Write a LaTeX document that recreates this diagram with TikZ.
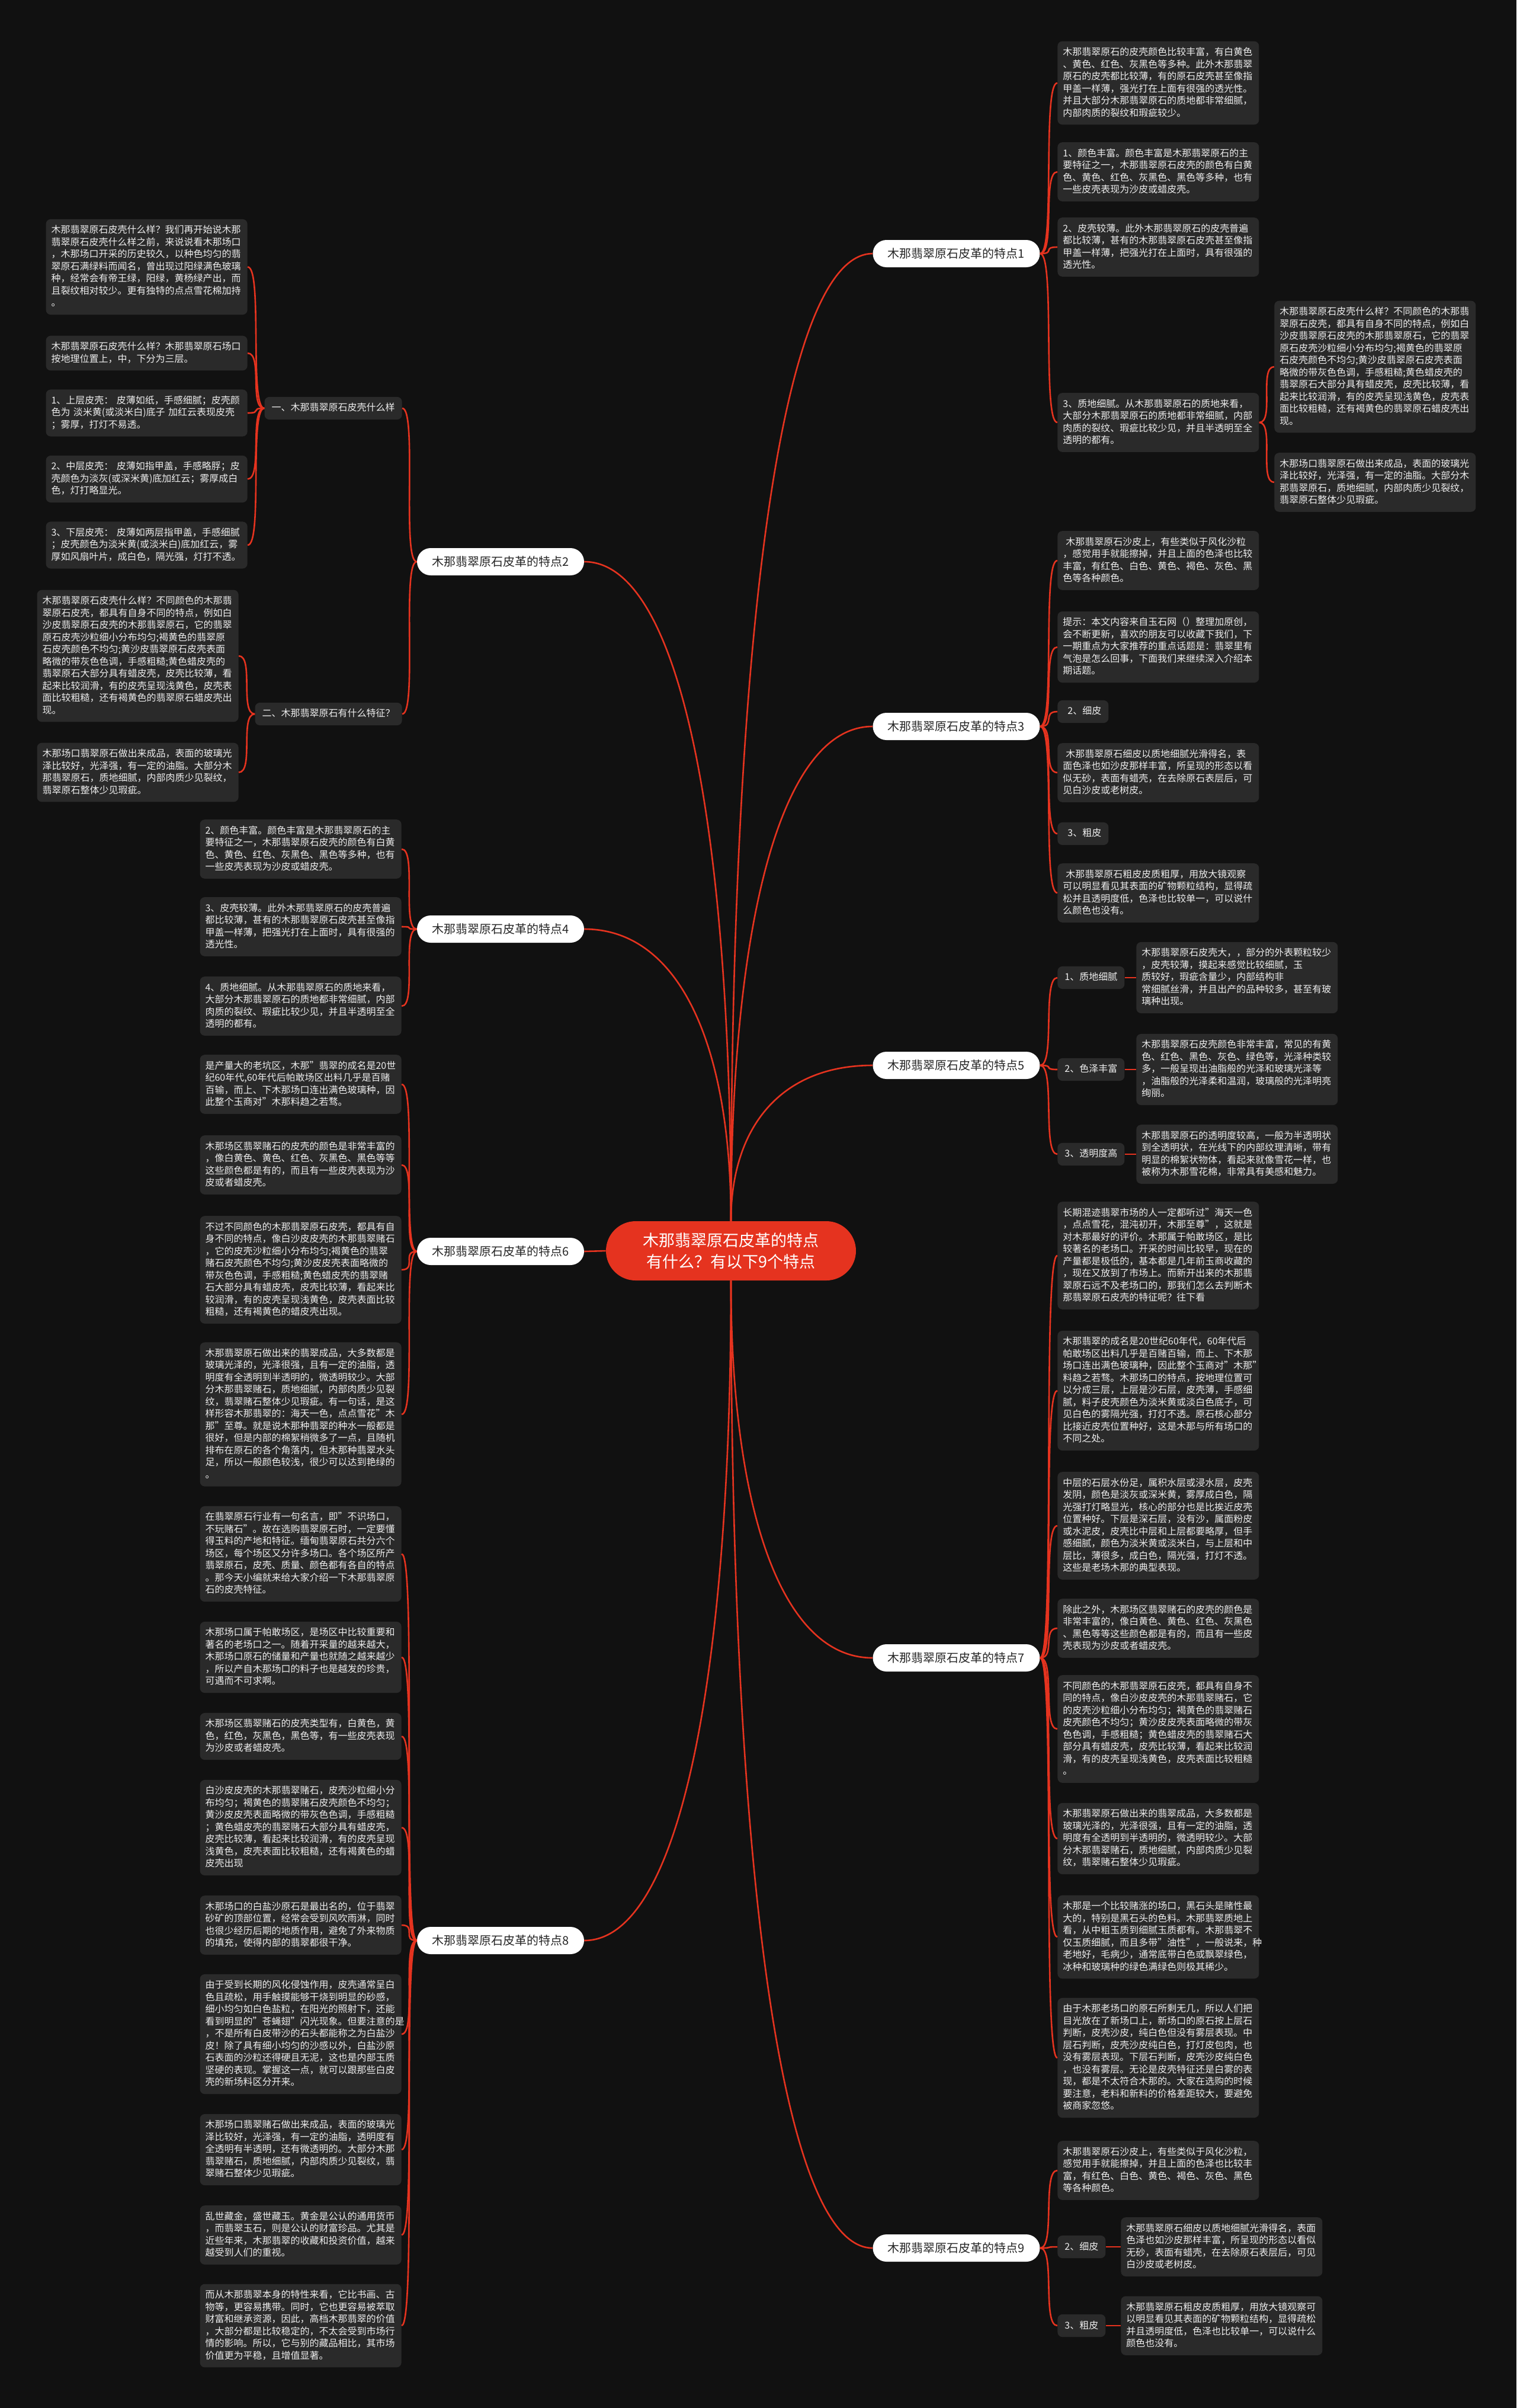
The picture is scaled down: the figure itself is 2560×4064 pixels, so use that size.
\documentclass[tikz,border=0pt]{standalone}
\usepackage{fontspec}
\setmainfont{Noto Sans CJK SC}
\usetikzlibrary{calc}
\definecolor{bgc}{HTML}{111111}
\definecolor{boxc}{HTML}{2A2A2A}
\definecolor{txtc}{HTML}{EEEEEE}
\definecolor{redc}{HTML}{E5331F}
\definecolor{pilltxt}{HTML}{262626}
\newcommand\bstrut{\rule[-2.65pt]{0pt}{10.25pt}}
\newcommand\bodyfont{\fontsize{8pt}{10.25pt}\selectfont}
\newcommand\mmcurve[2]{\draw[conn] let \p1=(#1), \p2=(#2) in (\p1) .. controls (\x1,{\y1+0.6*(\y2-\y1)}) and ({\x1+0.35*(\x2-\x1)},\y2) .. (\p2);}
\begin{document}
\begin{tikzpicture}[x=0.5pt,y=-0.5pt,
  conn/.style={draw=redc, line width=1.3pt},
  box/.style={fill=boxc, rounded corners=4pt, text=txtc, text width=161pt, align=left, inner xsep=4.5pt, inner ysep=4.4pt, font=\bodyfont, execute at begin node=\bstrut, execute at end node=\bstrut},
  lab/.style={fill=boxc, rounded corners=4pt, text=txtc, font=\bodyfont, inner xsep=6pt, inner ysep=4.4pt, execute at begin node=\bstrut},
  pill/.style={fill=white, text=pilltxt, rounded corners=11.5pt, minimum width=141pt, minimum height=23pt, font=\fontsize{10pt}{12pt}\selectfont, inner sep=0pt},
  root/.style={fill=redc, text=white, rounded corners=25pt, minimum width=211pt, minimum height=50pt, align=center, font=\fontsize{13.5pt}{18pt}\selectfont, inner sep=0pt}
]
\fill[bgc] (0,0) rectangle (2560,4064);
\useasboundingbox (0,0) rectangle (2560,4064);

% ---------- root and branches ----------
\node[root] (C) at (1234,2111) {木那翡翠原石皮革的特点\\有什么？有以下9个特点};
\node[pill] (P1) at (1614.5,428) {木那翡翠原石皮革的特点1};
\node[pill] (P2) at (845,948) {木那翡翠原石皮革的特点2};
\node[pill] (P3) at (1614.5,1226) {木那翡翠原石皮革的特点3};
\node[pill] (P4) at (845,1568) {木那翡翠原石皮革的特点4};
\node[pill] (P5) at (1614.5,1798) {木那翡翠原石皮革的特点5};
\node[pill] (P6) at (845,2112) {木那翡翠原石皮革的特点6};
\node[pill] (P7) at (1614.5,2798) {木那翡翠原石皮革的特点7};
\node[pill] (P8) at (845,3275) {木那翡翠原石皮革的特点8};
\node[pill] (P9) at (1614.5,3794) {木那翡翠原石皮革的特点9};

% ---------- feature 1 ----------
\node[box,anchor=west] (A1) at (1785,140) {木那翡翠原石的皮壳颜色比较丰富，有白黄色\\、黄色、红色、灰黑色等多种。此外木那翡翠\\原石的皮壳都比较薄，有的原石皮壳甚至像指\\甲盖一样薄，强光打在上面有很强的透光性。\\并且大部分木那翡翠原石的质地都非常细腻，\\内部肉质的裂纹和瑕疵较少。};
\node[box,anchor=west] (A2) at (1785,290) {1、颜色丰富。颜色丰富是木那翡翠原石的主\\要特征之一，木那翡翠原石皮壳的颜色有白黄\\色、黄色、红色、灰黑色、黑色等多种，也有\\一些皮壳表现为沙皮或蜡皮壳。};
\node[box,anchor=west] (A3) at (1785,417) {2、皮壳较薄。此外木那翡翠原石的皮壳普遍\\都比较薄，甚有的木那翡翠原石皮壳甚至像指\\甲盖一样薄，把强光打在上面时，具有很强的\\透光性。};
\node[box,anchor=west] (A4) at (1785,713) {3、质地细腻。从木那翡翠原石的质地来看，\\大部分木那翡翠原石的质地都非常细腻，内部\\肉质的裂纹、瑕疵比较少见，并且半透明至全\\透明的都有。};
\node[box,anchor=west] (A5) at (2151,619) {木那翡翠原石皮壳什么样？不同颜色的木那翡\\翠原石皮壳，都具有自身不同的特点，例如白\\沙皮翡翠原石皮壳的木那翡翠原石，它的翡翠\\原石皮壳沙粒细小分布均匀;褐黄色的翡翠原\\石皮壳颜色不均匀;黄沙皮翡翠原石皮壳表面\\略微的带灰色色调，手感粗糙;黄色蜡皮壳的\\翡翠原石大部分具有蜡皮壳，皮壳比较薄，看\\起来比较润滑，有的皮壳呈现浅黄色，皮壳表\\面比较粗糙，还有褐黄色的翡翠原石蜡皮壳出\\现。};
\node[box,anchor=west] (A6) at (2151,814) {木那场口翡翠原石做出来成品，表面的玻璃光\\泽比较好，光泽强，有一定的油脂。大部分木\\那翡翠原石，质地细腻，内部肉质少见裂纹，\\翡翠原石整体少见瑕疵。};

% ---------- feature 2 ----------
\node[lab,anchor=east] (B1) at (679,689) {一、木那翡翠原石皮壳什么样};
\node[lab,anchor=east] (B2) at (679,1205) {二、木那翡翠原石有什么特征？};
\node[box,anchor=east] (Ba1) at (418,450.5) {木那翡翠原石皮壳什么样？我们再开始说木那\\翡翠原石皮壳什么样之前，来说说看木那场口\\，木那场口开采的历史较久，以种色均匀的翡\\翠原石满绿料而闻名，曾出现过阳绿满色玻璃\\种，经常会有帝王绿，阳绿，黄杨绿产出，而\\且裂纹相对较少。更有独特的点点雪花棉加持\\。};
\node[box,anchor=east] (Ba2) at (418,596) {木那翡翠原石皮壳什么样？木那翡翠原石场口\\按地理位置上，中，下分为三层。};
\node[box,anchor=east] (Ba3) at (418,697) {1、上层皮壳： 皮薄如纸，手感细腻；皮壳颜\\色为 淡米黄(或淡米白)底子 加红云表现皮壳\\；雾厚，打灯不易透。};
\node[box,anchor=east] (Ba4) at (418,808.5) {2、中层皮壳： 皮薄如指甲盖，手感略脬；皮\\壳颜色为淡灰(或深米黄)底加红云；雾厚成白\\色，灯打略显光。};
\node[box,anchor=east] (Ba5) at (418,920) {3、下层皮壳： 皮薄如两层指甲盖，手感细腻\\；皮壳颜色为淡米黄(或淡米白)底加红云，雾\\厚如风扇叶片，成白色，隔光强，灯打不透。};
\node[box,anchor=east] (Bb1) at (403,1107) {木那翡翠原石皮壳什么样？不同颜色的木那翡\\翠原石皮壳，都具有自身不同的特点，例如白\\沙皮翡翠原石皮壳的木那翡翠原石，它的翡翠\\原石皮壳沙粒细小分布均匀;褐黄色的翡翠原\\石皮壳颜色不均匀;黄沙皮翡翠原石皮壳表面\\略微的带灰色色调，手感粗糙;黄色蜡皮壳的\\翡翠原石大部分具有蜡皮壳，皮壳比较薄，看\\起来比较润滑，有的皮壳呈现浅黄色，皮壳表\\面比较粗糙，还有褐黄色的翡翠原石蜡皮壳出\\现。};
\node[box,anchor=east] (Bb2) at (403,1303.5) {木那场口翡翠原石做出来成品，表面的玻璃光\\泽比较好，光泽强，有一定的油脂。大部分木\\那翡翠原石，质地细腻，内部肉质少见裂纹，\\翡翠原石整体少见瑕疵。};

% ---------- feature 3 ----------
\node[box,anchor=west] (C1) at (1785,946) {\hspace*{2.5pt}木那翡翠原石沙皮上，有些类似于风化沙粒\\，感觉用手就能擦掉，并且上面的色泽也比较\\丰富，有红色、白色、黄色、褐色、灰色、黑\\色等各种颜色。};
\node[box,anchor=west] (C2) at (1785,1092) {提示：本文内容来自玉石网（）整理加原创，\\会不断更新，喜欢的朋友可以收藏下我们，下\\一期重点为大家推荐的重点话题是：翡翠里有\\气泡是怎么回事，下面我们来继续深入介绍本\\期话题。};
\node[lab,anchor=west] (C3) at (1785,1201) {\hspace*{2.5pt}2、细皮};
\node[box,anchor=west] (C4) at (1785,1304) {\hspace*{2.5pt}木那翡翠原石细皮以质地细腻光滑得名，表\\面色泽也如沙皮那样丰富，所呈现的形态以看\\似无砂，表面有蜡壳，在去除原石表层后，可\\见白沙皮或老树皮。};
\node[lab,anchor=west] (C5) at (1785,1407) {\hspace*{2.5pt}3、粗皮};
\node[box,anchor=west] (C6) at (1785,1507) {\hspace*{2.5pt}木那翡翠原石粗皮皮质粗厚，用放大镜观察\\可以明显看见其表面的矿物颗粒结构，显得疏\\松并且透明度低，色泽也比较单一，可以说什\\么颜色也没有。};

% ---------- feature 4 ----------
\node[box,anchor=east] (D1) at (678,1433) {2、颜色丰富。颜色丰富是木那翡翠原石的主\\要特征之一，木那翡翠原石皮壳的颜色有白黄\\色、黄色、红色、灰黑色、黑色等多种，也有\\一些皮壳表现为沙皮或蜡皮壳。};
\node[box,anchor=east] (D2) at (678,1564) {3、皮壳较薄。此外木那翡翠原石的皮壳普遍\\都比较薄，甚有的木那翡翠原石皮壳甚至像指\\甲盖一样薄，把强光打在上面时，具有很强的\\透光性。};
\node[box,anchor=east] (D3) at (678,1698) {4、质地细腻。从木那翡翠原石的质地来看，\\大部分木那翡翠原石的质地都非常细腻，内部\\肉质的裂纹、瑕疵比较少见，并且半透明至全\\透明的都有。};

% ---------- feature 5 ----------
\node[lab,anchor=west] (E1) at (1785,1650) {1、质地细腻};
\node[lab,anchor=west] (E2) at (1785,1805) {2、色泽丰富};
\node[lab,anchor=west] (E3) at (1785,1948) {3、透明度高};
\node[box,anchor=west] (Et1) at (1918,1650) {木那翡翠原石皮壳大，，部分的外表颗粒较少\\，皮壳较薄，摸起来感觉比较细腻，玉\\质较好，瑕疵含量少，内部结构非\\常细腻丝滑，并且出产的品种较多，甚至有玻\\璃种出现。};
\node[box,anchor=west] (Et2) at (1918,1805) {木那翡翠原石皮壳颜色非常丰富，常见的有黄\\色、红色、黑色、灰色、绿色等，光泽种类较\\多，一般呈现出油脂般的光泽和玻璃光泽等\\，油脂般的光泽柔和温润，玻璃般的光泽明亮\\绚丽。};
\node[box,anchor=west] (Et3) at (1918,1948) {木那翡翠原石的透明度较高，一般为半透明状\\到全透明状，在光线下的内部纹理清晰，带有\\明显的棉絮状物体，看起来就像雪花一样，也\\被称为木那雪花棉，非常具有美感和魅力。};

% ---------- feature 6 ----------
\node[box,anchor=east] (F1) at (678,1830) {是产量大的老坑区，木那"翡翠的成名是20世\\纪60年代,60年代后帕敢场区出料几乎是百赌\\百输，而上、下木那场口连出满色玻璃种，因\\此整个玉商对"木那料趋之若骛。};
\node[box,anchor=east] (F2) at (678,1966) {木那场区翡翠赌石的皮壳的颜色是非常丰富的\\，像白黄色、黄色、红色、灰黑色、黑色等等\\这些颜色都是有的，而且有一些皮壳表现为沙\\皮或者蜡皮壳。};
\node[box,anchor=east] (F3) at (678,2143) {不过不同颜色的木那翡翠原石皮壳，都具有自\\身不同的特点，像白沙皮皮壳的木那翡翠赌石\\，它的皮壳沙粒细小分布均匀;褐黄色的翡翠\\赌石皮壳颜色不均匀;黄沙皮皮壳表面略微的\\带灰色色调，手感粗糙;黄色蜡皮壳的翡翠赌\\石大部分具有蜡皮壳，皮壳比较薄，看起来比\\较润滑，有的皮壳呈现浅黄色，皮壳表面比较\\粗糙，还有褐黄色的蜡皮壳出现。};
\node[box,anchor=east] (F4) at (678,2387) {木那翡翠原石做出来的翡翠成品，大多数都是\\玻璃光泽的，光泽很强，且有一定的油脂，透\\明度有全透明到半透明的，微透明较少。大部\\分木那翡翠赌石，质地细腻，内部肉质少见裂\\纹，翡翠赌石整体少见瑕疵。有一句话，是这\\样形容木那翡翠的：海天一色，点点雪花"木\\那"至尊。就是说木那种翡翠的种水一般都是\\很好，但是内部的棉絮稍微多了一点，且随机\\排布在原石的各个角落内，但木那种翡翠水头\\足，所以一般颜色较浅，很少可以达到艳绿的\\。};

% ---------- feature 7 ----------
\node[box,anchor=west] (G1) at (1785,2119) {长期混迹翡翠市场的人一定都听过"海天一色\\，点点雪花，混沌初开，木那至尊"，这就是\\对木那最好的评价。木那属于帕敢场区，是比\\较著名的老场口。开采的时间比较早，现在的\\产量都是极低的，基本都是几年前玉商收藏的\\，现在又放到了市场上。而新开出来的木那翡\\翠原石远不及老场口的，那我们怎么去判断木\\那翡翠原石皮壳的特征呢？往下看};
\node[box,anchor=west] (G2) at (1785,2347) {木那翡翠的成名是20世纪60年代，60年代后\\帕敢场区出料几乎是百赌百输，而上、下木那\\场口连出满色玻璃种，因此整个玉商对"木那"\\料趋之若骛。木那场口的特点，按地理位置可\\以分成三层，上层是沙石层，皮壳薄，手感细\\腻，料子皮壳颜色为淡米黄或淡白色底子，可\\见白色的雾隔光强，打灯不透。原石核心部分\\比接近皮壳位置种好，这是木那与所有场口的\\不同之处。};
\node[box,anchor=west] (G3) at (1785,2575) {中层的石层水份足，属积水层或浸水层，皮壳\\发阴，颜色是淡灰或深米黄，雾厚成白色，隔\\光强打灯略显光，核心的部分也是比挨近皮壳\\位置种好。下层是深石层，没有沙，属面粉皮\\或水泥皮，皮壳比中层和上层都要略厚，但手\\感细腻，颜色为淡米黄或淡米白，与上层和中\\层比，薄很多，成白色，隔光强，打灯不透。\\这些是老场木那的典型表现。};
\node[box,anchor=west] (G4) at (1785,2748) {除此之外，木那场区翡翠赌石的皮壳的颜色是\\非常丰富的，像白黄色、黄色、红色、灰黑色\\、黑色等等这些颜色都是有的，而且有一些皮\\壳表现为沙皮或者蜡皮壳。};
\node[box,anchor=west] (G5) at (1785,2918) {不同颜色的木那翡翠原石皮壳，都具有自身不\\同的特点，像白沙皮皮壳的木那翡翠赌石，它\\的皮壳沙粒细小分布均匀；褐黄色的翡翠赌石\\皮壳颜色不均匀；黄沙皮皮壳表面略微的带灰\\色色调，手感粗糙；黄色蜡皮壳的翡翠赌石大\\部分具有蜡皮壳，皮壳比较薄，看起来比较润\\滑，有的皮壳呈现浅黄色，皮壳表面比较粗糙\\。};
\node[box,anchor=west] (G6) at (1785,3103) {木那翡翠原石做出来的翡翠成品，大多数都是\\玻璃光泽的，光泽很强，且有一定的油脂，透\\明度有全透明到半透明的，微透明较少。大部\\分木那翡翠赌石，质地细腻，内部肉质少见裂\\纹，翡翠赌石整体少见瑕疵。};
\node[box,anchor=west] (G7) at (1785,3269) {木那是一个比较赌涨的场口，黑石头是赌性最\\大的，特别是黑石头的色料。木那翡翠质地上\\看，从中粗玉质到细腻玉质都有。木那翡翠不\\仅玉质细腻，而且多带"油性"，一般说来，种\\老地好，毛病少，通常底带白色或飘翠绿色，\\冰种和玻璃种的绿色满绿色则极其稀少。};
\node[box,anchor=west] (G8) at (1785,3473) {由于木那老场口的原石所剩无几，所以人们把\\目光放在了新场口上，新场口的原石按上层石\\判断，皮壳沙皮，纯白色但没有雾层表现。中\\层石判断，皮壳沙皮纯白色，打灯皮包肉，也\\没有雾层表现。下层石判断，皮壳沙皮纯白色\\，也没有雾层。无论是皮壳特征还是白雾的表\\现，都是不太符合木那的。大家在选购的时候\\要注意，老料和新料的价格差距较大，要避免\\被商家忽悠。};

% ---------- feature 8 ----------
\node[box,anchor=east] (H1) at (678,2622.5) {在翡翠原石行业有一句名言，即"不识场口，\\不玩赌石"。故在选购翡翠原石时，一定要懂\\得玉料的产地和特征。缅甸翡翠原石共分六个\\场区，每个场区又分许多场口。各个场区所产\\翡翠原石，皮壳、质量、颜色都有各自的特点\\。那今天小编就来给大家介绍一下木那翡翠原\\石的皮壳特征。};
\node[box,anchor=east] (H2) at (678,2797) {木那场口属于帕敢场区，是场区中比较重要和\\著名的老场口之一。随着开采量的越来越大，\\木那场口原石的储量和产量也就随之越来越少\\，所以产自木那场口的料子也是越发的珍贵，\\可遇而不可求啊。};
\node[box,anchor=east] (H3) at (678,2930.5) {木那场区翡翠赌石的皮壳类型有，白黄色，黄\\色，红色，灰黑色，黑色等，有一些皮壳表现\\为沙皮或者蜡皮壳。};
\node[box,anchor=east] (H4) at (678,3084.5) {白沙皮皮壳的木那翡翠赌石，皮壳沙粒细小分\\布均匀；褐黄色的翡翠赌石皮壳颜色不均匀；\\黄沙皮皮壳表面略微的带灰色色调，手感粗糙\\；黄色蜡皮壳的翡翠赌石大部分具有蜡皮壳，\\皮壳比较薄，看起来比较润滑，有的皮壳呈现\\浅黄色，皮壳表面比较粗糙，还有褐黄色的蜡\\皮壳出现};
\node[box,anchor=east] (H5) at (678,3249) {木那场口的白盐沙原石是最出名的，位于翡翠\\砂矿的顶部位置，经常会受到风吹雨淋，同时\\也很少经历后期的地质作用，避免了外来物质\\的填充，使得内部的翡翠都很干净。};
\node[box,anchor=east] (H6) at (678,3433) {由于受到长期的风化侵蚀作用，皮壳通常呈白\\色且疏松，用手触摸能够干烧到明显的砂感，\\细小均匀如白色盐粒，在阳光的照射下，还能\\看到明显的"苍蝇翅"闪光现象。但要注意的是\\，不是所有白皮带沙的石头都能称之为白盐沙\\皮！除了具有细小均匀的沙感以外，白盐沙原\\石表面的沙粒还得硬且无泥，这也是内部玉质\\坚硬的表现。掌握这一点，就可以跟那些白皮\\壳的新场料区分开来。};
\node[box,anchor=east] (H7) at (678,3628) {木那场口翡翠赌石做出来成品，表面的玻璃光\\泽比较好，光泽强，有一定的油脂，透明度有\\全透明有半透明，还有微透明的。大部分木那\\翡翠赌石，质地细腻，内部肉质少见裂纹，翡\\翠赌石整体少见瑕疵。};
\node[box,anchor=east] (H8) at (678,3772) {乱世藏金，盛世藏玉。黄金是公认的通用货币\\，而翡翠玉石，则是公认的财富珍品。尤其是\\近些年来，木那翡翠的收藏和投资价值，越来\\越受到人们的重视。};
\node[box,anchor=east] (H9) at (678,3925) {而从木那翡翠本身的特性来看，它比书画、古\\物等，更容易携带。同时，它也更容易被萃取\\财富和继承资源，因此，高档木那翡翠的价值\\，大部分都是比较稳定的，不太会受到市场行\\情的影响。所以，它与别的藏品相比，其市场\\价值更为平稳，且增值显著。};

% ---------- feature 9 ----------
\node[box,anchor=west] (K1) at (1785,3663) {木那翡翠原石沙皮上，有些类似于风化沙粒，\\感觉用手就能擦掉，并且上面的色泽也比较丰\\富，有红色、白色、黄色、褐色、灰色、黑色\\等各种颜色。};
\node[lab,anchor=west] (K2) at (1785,3792) {2、细皮};
\node[lab,anchor=west] (K3) at (1785,3925) {3、粗皮};
\node[box,anchor=west] (K2t) at (1892,3792) {木那翡翠原石细皮以质地细腻光滑得名，表面\\色泽也如沙皮那样丰富，所呈现的形态以看似\\无砂，表面有蜡壳，在去除原石表层后，可见\\白沙皮或老树皮。};
\node[box,anchor=west] (K3t) at (1892,3925) {木那翡翠原石粗皮皮质粗厚，用放大镜观察可\\以明显看见其表面的矿物颗粒结构，显得疏松\\并且透明度低，色泽也比较单一，可以说什么\\颜色也没有。};

% ---------- connectors: root to branches ----------
\mmcurve{C.north}{P1.west}
\mmcurve{C.north}{P3.west}
\mmcurve{C.north}{P5.west}
\mmcurve{C.north}{P2.east}
\mmcurve{C.north}{P4.east}
\draw[conn] (C.west) -- (P6.east);
\mmcurve{C.south}{P7.west}
\mmcurve{C.south}{P9.west}
\mmcurve{C.south}{P8.east}

% ---------- connectors: branches to children ----------
\foreach \p/\c in {P1/A1,P1/A2,P1/A3,P1/A4,A4/A5,A4/A6,
  P3/C1,P3/C2,P3/C3,P3/C4,P3/C5,P3/C6,
  P5/E1,P5/E2,P5/E3,
  P7/G1,P7/G2,P7/G3,P7/G4,P7/G5,P7/G6,P7/G7,P7/G8,
  P9/K1,P9/K2,P9/K3}
  \draw[conn] (\p.east) .. controls +(13pt,0) and +(-13pt,0) .. (\c.west);
\foreach \p/\c in {P2/B1,P2/B2,B1/Ba1,B1/Ba2,B1/Ba3,B1/Ba4,B1/Ba5,B2/Bb1,B2/Bb2,
  P4/D1,P4/D2,P4/D3,
  P6/F1,P6/F2,P6/F3,P6/F4,
  P8/H1,P8/H2,P8/H3,P8/H4,P8/H5,P8/H6,P8/H7,P8/H8,P8/H9}
  \draw[conn] (\p.west) .. controls +(-13pt,0) and +(13pt,0) .. (\c.east);
\foreach \p/\c in {E1/Et1,E2/Et2,E3/Et3,K2/K2t,K3/K3t}
  \draw[conn] (\p.east) -- (\c.west);
\end{tikzpicture}
\end{document}
